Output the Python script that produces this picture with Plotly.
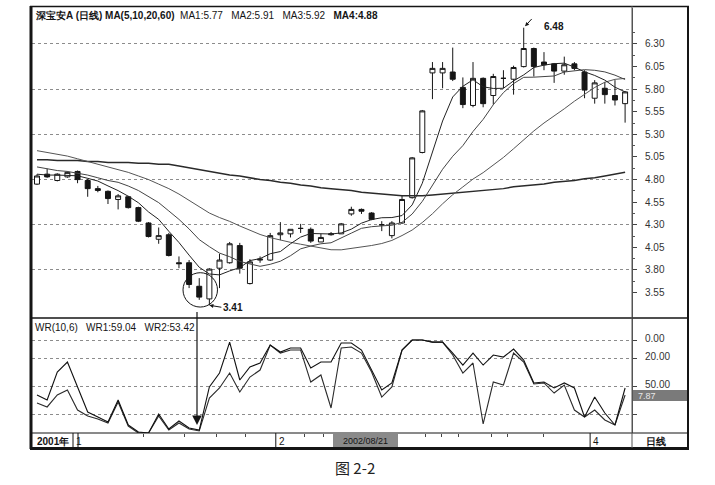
import plotly.graph_objects as go

# ---------------- data ----------------
idx = list(range(1, 60))
opens = [4.75,4.86,4.79,4.83,4.89,4.79,4.70,4.67,4.58,4.61,4.49,4.32,4.14,4.19,3.88,3.88,3.62,3.48,3.82,3.88,
         4.07,3.65,3.91,3.91,4.19,4.20,4.26,4.25,4.11,4.19,4.20,4.42,4.47,4.43,4.30,4.18,4.32,4.60,5.10,5.98,
         5.98,5.99,5.82,5.62,5.92,5.73,5.92,5.91,6.05,6.25,6.10,6.08,6.00,6.08,5.99,5.70,5.81,5.73,5.64]
closes = [4.84,4.83,4.86,4.88,4.80,4.70,4.68,4.59,4.62,4.49,4.34,4.17,4.18,3.96,3.87,3.64,3.50,3.81,3.91,4.09,
          3.82,3.89,3.92,4.18,4.21,4.25,4.26,4.12,4.16,4.20,4.31,4.47,4.45,4.36,4.30,4.32,4.58,5.04,5.56,6.03,
          6.03,5.91,5.63,5.92,5.64,5.94,5.92,6.04,6.25,6.05,6.07,6.00,6.07,6.03,5.79,5.87,5.74,5.68,5.77]
highs = [4.86,4.92,4.87,4.89,4.90,4.81,4.73,4.68,4.64,4.62,4.50,4.33,4.27,4.21,3.95,3.91,3.71,3.82,3.98,4.11,
         4.10,3.92,3.95,4.21,4.33,4.25,4.31,4.27,4.20,4.22,4.32,4.50,4.48,4.44,4.34,4.34,4.62,5.05,5.57,6.10,
         6.10,6.26,5.93,6.10,5.93,5.97,6.01,6.06,6.48,6.26,6.21,6.09,6.16,6.10,6.01,5.90,5.88,5.90,5.78]
lows = [4.74,4.82,4.78,4.82,4.76,4.61,4.66,4.53,4.47,4.48,4.33,4.16,4.09,3.95,3.82,3.60,3.47,3.41,3.60,3.87,
        3.76,3.64,3.88,3.90,4.13,4.16,4.21,4.10,4.11,4.18,4.20,4.40,4.42,4.35,4.23,4.15,4.31,4.59,5.09,5.69,
        5.81,5.89,5.59,5.60,5.60,5.63,5.81,5.74,6.04,5.94,6.01,5.87,5.96,6.01,5.70,5.64,5.64,5.62,5.43]

ma5 = [4.86,4.85,4.85,4.85,4.842,4.814,4.784,4.73,4.678,4.616,4.544,4.442,4.36,4.228,4.104,3.964,3.83,3.756,
       3.746,3.79,3.826,3.904,3.926,3.98,4.004,4.09,4.164,4.204,4.20,4.198,4.21,4.252,4.318,4.358,4.378,4.38,
       4.402,4.52,4.76,5.106,5.448,5.714,5.832,5.904,5.826,5.808,5.81,5.892,5.958,6.04,6.066,6.082,6.088,
       6.044,5.992,5.952,5.90,5.822,5.77]
ma10 = [4.94,4.92,4.90,4.89,4.87,4.85,4.82,4.79,4.77,4.729,4.679,4.613,4.545,4.453,4.36,4.254,4.136,4.058,
        3.987,3.947,3.895,3.867,3.841,3.863,3.897,3.958,4.034,4.065,4.09,4.101,4.15,4.208,4.261,4.279,4.288,
        4.295,4.327,4.419,4.559,4.742,4.914,5.058,5.176,5.332,5.466,5.628,5.762,5.862,5.931,5.933,5.937,
        5.946,5.99,6.001,6.016,6.009,5.991,5.955,5.907]
ma20 = [5.12,5.10,5.08,5.06,5.03,5.00,4.97,4.94,4.91,4.88,4.84,4.80,4.75,4.70,4.64,4.57,4.50,4.43,4.38,
        4.338,4.287,4.24,4.193,4.158,4.129,4.106,4.085,4.062,4.039,4.024,4.023,4.038,4.051,4.071,4.093,
        4.127,4.181,4.242,4.325,4.422,4.532,4.633,4.719,4.806,4.877,4.962,5.045,5.141,5.245,5.338,5.426,
        5.502,5.583,5.667,5.741,5.819,5.877,5.909,5.919]
ma60 = [5.02,5.02,5.01,5.01,5.01,5.00,5.00,4.99,4.99,4.99,4.98,4.98,4.97,4.97,
        4.95,4.93,4.91,4.89,4.87,4.85,4.84,4.82,4.80,4.79,4.77,
        4.76,4.74,4.73,4.71,4.70,4.69,4.68,4.66,4.65,4.64,
        4.63,4.62,4.62,4.62,4.63,
        4.64,4.65,4.66,4.67,4.68,4.69,4.70,4.72,4.73,4.74,4.75,4.77,4.78,4.79,4.81,4.82,4.84,4.86,4.88]

wr1 = [67.7,72.0,59.1,53.8,75.3,81.7,84.9,89.2,66.7,92.5,100,100,81.7,96.8,89.2,95.7,97.8,62.4,51.6,35.5,
       55.9,39.8,32.3,5.4,14.0,10.8,10.8,45.2,37.6,73.1,8.6,7.5,14.0,34.4,61.3,50.5,10.8,0,0,2.2,
       2.2,16.1,35.5,24.7,90.3,45.2,48.4,14.0,23.7,47.3,46.2,57.0,48.4,75.3,82.8,75.3,86.0,91.4,59.1]
wr2 = [59.1,64.5,34.4,23.7,50.5,77.4,82.8,88.2,64.5,91.4,98.9,100,79.6,95.7,87.1,94.6,96.8,50.5,35.5,2.2,
       43.0,29.0,24.7,5.4,12.9,8.6,8.6,30.1,23.7,23.7,3.2,3.2,10.8,32.3,53.8,46.2,10.8,0,0,2.2,
       2.2,14.0,26.9,14.0,26.9,16.1,18.3,9.7,21.5,46.2,45.2,51.6,46.2,51.6,82.8,61.3,78.5,91.4,51.6]

price_ticks = [3.55,3.80,4.05,4.30,4.55,4.80,5.05,5.30,5.55,5.80,6.05,6.30]
price_grid = [3.80,4.30,4.80,5.30,5.80,6.30]
wr_ticks = [0,20,50,80]
wr_labels = ["0.00","20.00","50.00",""]
month_idx = [5, 25, 56]
month_labels = ["1", "2", "4"]
date_ticks = [11.5, 15.5, 18.7, 21.6, 27.4, 29.3, 39.3, 40.9, 42.6, 45.8, 47.4, 51]

title_txt = ("<b>深宝安A (日线) MA(5,10,20,60)</b>  MA1:5.77   MA2:5.91   MA3:5.92   <b>MA4:4.88</b>")
wr_txt = "WR(10,6)   WR1:59.04   WR2:53.42"

# ---------------- figure ----------------
W, H = 715, 485
L, R, T, B = 32, 83, 8, 52
PW, PH = W - L - R, H - T - B
def px(x):  # pixel -> paper x
    return (x - L) / PW
def py(y):  # pixel -> paper y
    return (T + PH - y) / PH

split = py(318)
FONT = "Liberation Sans, Arial, sans-serif"
ink = "#151515"

fig = go.Figure()
fig.add_trace(go.Candlestick(
    x=idx, open=opens, high=highs, low=lows, close=closes,
    increasing=dict(line=dict(color=ink, width=1), fillcolor="white"),
    decreasing=dict(line=dict(color=ink, width=1), fillcolor=ink),
    whiskerwidth=0, xaxis="x", yaxis="y", hoverinfo="skip", showlegend=False))

for series, col, w in [(ma60, "#2a2a2a", 1.5), (ma20, "#555555", 1.0),
                       (ma10, "#444444", 1.0), (ma5, "#222222", 1.0)]:
    fig.add_trace(go.Scatter(x=idx, y=series, mode="lines", line=dict(color=col, width=w),
                             xaxis="x", yaxis="y", hoverinfo="skip", showlegend=False))

for series, col in [(wr1, "#2b2b2b"), (wr2, "#111111")]:
    fig.add_trace(go.Scatter(x=idx, y=series, mode="lines", line=dict(color=col, width=1.1),
                             xaxis="x", yaxis="y2", hoverinfo="skip", showlegend=False))

# helper trace so the grid overlay axis is drawn
fig.add_trace(go.Scatter(x=[idx[0]], y=[price_grid[0]], mode="markers", marker=dict(opacity=0),
                         xaxis="x", yaxis="y3", hoverinfo="skip", showlegend=False))

prange = [3.269, 6.698]
fig.update_layout(
    width=W, height=H, margin=dict(l=L, r=R, t=T, b=B),
    paper_bgcolor="white", plot_bgcolor="white",
    font=dict(family=FONT, size=10, color=ink),
    hovermode=False,
    xaxis=dict(domain=[0, 1], anchor="y2", range=[0.507, 59.68], showgrid=False, zeroline=False,
               rangeslider=dict(visible=False), tickvals=date_ticks, ticks="outside", ticklen=3,
               tickcolor="#444", showticklabels=False, showline=False),
    yaxis=dict(domain=[split, 1], range=prange, side="right", anchor="x", tickvals=price_ticks,
               ticktext=[f"{v:.2f}" for v in price_ticks], showgrid=False, zeroline=False,
               ticks="outside", ticklen=4, tickcolor="#444", showline=True, linecolor="#555",
               linewidth=1, ticklabelstandoff=6, tickfont=dict(size=10, color="#333"),
               minor=dict(tickvals=[v + 0.125 for v in price_ticks], ticks="outside", ticklen=2,
                          tickcolor="#555")),
    yaxis3=dict(overlaying="y", range=prange, side="left", tickvals=price_grid, showgrid=True,
                gridcolor="#8c8c8c", griddash="dot", gridwidth=1, showticklabels=False,
                ticks="", zeroline=False, showline=False),
    yaxis2=dict(domain=[0, split], range=[100, -23.7], side="right", anchor="x", tickvals=wr_ticks,
                ticktext=wr_labels, showgrid=True, gridcolor="#8c8c8c", griddash="dot",
                zeroline=False, ticks="outside", ticklen=4, tickcolor="#444", showline=True,
                linecolor="#555", linewidth=1, ticklabelstandoff=6, ticklabelshift=2,
                tickfont=dict(size=10, color="#333")),
)

shapes = []
def pline(x0, y0, x1, y1, w=1, c=ink):
    shapes.append(dict(type="line", xref="paper", yref="paper", x0=px(x0), y0=py(y0),
                       x1=px(x1), y1=py(y1), line=dict(color=c, width=w)))
# frame
pline(31, 6, 31, 449, 3)
pline(30, 448.5, 689, 448.5, 3)
pline(688, 6, 688, 449, 2)
pline(30, 6.5, 689, 6.5, 1.5)
pline(31, 318, 688, 318, 1.5)
pline(31, 433, 688, 433, 1)
pline(632, 6, 632, 448, 1, "#555")
# value box in right panel
shapes.append(dict(type="rect", xref="paper", yref="paper", x0=px(633), x1=px(687), y0=py(401),
                   y1=py(390), fillcolor="#7a7a7a", line=dict(width=0)))
# date bar cursor box
shapes.append(dict(type="rect", xref="paper", yref="paper", x0=px(333), x1=px(398), y0=py(447),
                   y1=py(434), fillcolor="#8a8a8a", line=dict(width=0)))
# month separators
for m in month_idx:
    shapes.append(dict(type="line", xref="x", yref="paper", x0=m - 0.45, x1=m - 0.45, y0=py(447),
                       y1=py(433), line=dict(color=ink, width=1)))
pline(78, 433, 78, 448, 1)
# circle around the low
shapes.append(dict(type="circle", xref="x", yref="y", x0=15.4, x1=18.8, y0=3.39, y1=3.77,
                   line=dict(color=ink, width=1)))
fig.update_layout(shapes=shapes)

ann = []
ann.append(dict(xref="paper", yref="paper", x=px(33), y=py(15), xanchor="left", yanchor="middle",
                text=title_txt, showarrow=False, font=dict(size=10, color=ink)))
ann.append(dict(xref="paper", yref="paper", x=px(33), y=py(327), xanchor="left", yanchor="middle",
                text=wr_txt, showarrow=False, font=dict(size=10, color=ink)))
ann.append(dict(xref="paper", yref="paper", x=px(35), y=py(441), xanchor="left", yanchor="middle",
                text="<b>2001年</b>", showarrow=False, font=dict(size=10, color=ink)))
for m, lab in zip(month_idx, month_labels):
    ann.append(dict(xref="x", yref="paper", x=m - 0.35, y=py(441), xanchor="left", yanchor="middle",
                    text=lab, showarrow=False, font=dict(size=10, color=ink)))
ann.append(dict(xref="paper", yref="paper", x=px(365.5), y=py(441), xanchor="center", yanchor="middle",
                text="2002/08/21", showarrow=False, font=dict(size=9, color=ink)))
ann.append(dict(xref="paper", yref="paper", x=px(636), y=py(395.5), xanchor="left", yanchor="middle",
                text="7.87", showarrow=False, font=dict(size=9, color="#e8e8e8")))
ann.append(dict(xref="paper", yref="paper", x=px(656), y=py(441), xanchor="center", yanchor="middle",
                text="<b>日线</b>", showarrow=False, font=dict(size=10, color=ink)))
# 6.48 high marker
ann.append(dict(xref="x", yref="y", x=49, y=highs[48], ax=11, ay=-12, text=" ", showarrow=True,
                arrowhead=2, arrowsize=0.8, arrowwidth=1, arrowcolor=ink, standoff=2))
ann.append(dict(xref="x", yref="y", x=49, y=highs[48], xshift=30, yshift=1, text="<b>6.48</b>",
                showarrow=False, font=dict(size=10, color=ink)))
# 3.41 low marker
ann.append(dict(xref="x", yref="y", x=18, y=lows[17], ax=12, ay=2, text="<b>3.41</b>", xanchor="left",
                showarrow=True, arrowhead=2, arrowsize=0.8, arrowwidth=1, arrowcolor=ink,
                font=dict(size=10, color=ink)))
# long arrow from circle down to the WR panel
ann.append(dict(xref="x", yref="y2", x=16.78, y=91.4, ax=0, ay=-120, text=" ", showarrow=True,
                arrowhead=2, arrowsize=1.6, arrowwidth=1.2, arrowcolor=ink, standoff=0))
# caption
ann.append(dict(xref="paper", yref="paper", x=px(355), y=py(467), xanchor="center", yanchor="middle",
                text="图 2-2", showarrow=False,
                font=dict(size=15, color="#222", family="Noto Sans CJK SC, sans-serif")))
fig.update_layout(annotations=ann)

fig.write_html("out.html", config={"displayModeBar": False},
               post_script="document.body.style.margin='0';document.body.style.padding='0';")
